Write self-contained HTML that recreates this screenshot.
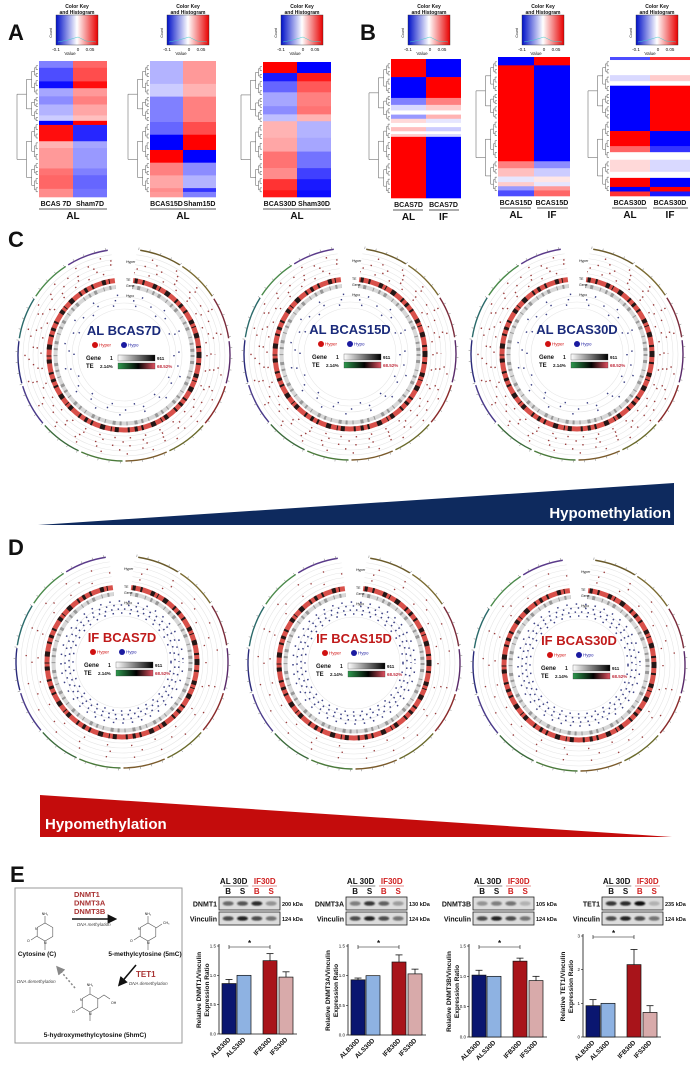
<!DOCTYPE html>
<html><head><meta charset="utf-8">
<style>
html,body{margin:0;padding:0;background:#fff;}
svg{display:block;font-family:"Liberation Sans",Arial,sans-serif;}
</style></head>
<body>
<svg id="fig" width="697" height="1065" viewBox="0 0 697 1065" xmlns="http://www.w3.org/2000/svg">
<defs>
<linearGradient id="ckey" x1="0" x2="1" y1="0" y2="0">
<stop offset="0" stop-color="#0010c8"/><stop offset="0.5" stop-color="#ffffff"/><stop offset="1" stop-color="#e80000"/></linearGradient>
<linearGradient id="gGene" x1="0" x2="1"><stop offset="0" stop-color="#fff"/><stop offset="1" stop-color="#000"/></linearGradient>
<linearGradient id="gTE" x1="0" x2="1"><stop offset="0" stop-color="#2e9a4e"/><stop offset="0.55" stop-color="#000"/><stop offset="1" stop-color="#e05060"/></linearGradient>
<filter id="blur1"><feGaussianBlur stdDeviation="0.9"/></filter>
<marker id="arr" markerWidth="6" markerHeight="6" refX="4" refY="3" orient="auto"><path d="M0,0 L6,3 L0,6 z" fill="#111"/></marker>
<marker id="arrg" markerWidth="6" markerHeight="6" refX="4" refY="3" orient="auto"><path d="M0,0 L6,3 L0,6 z" fill="#888"/></marker>
</defs>
<g id="root"></g>
</svg>
<script>
// ---------- bar chart data (panel E) ----------
const groups = ['ALB30D','ALS30D','IFB30D','IFS30D'];
const dnmt1Vals = [0.86, 1.0, 1.25, 0.97];
const dnmt1Err  = [0.07, 0.0, 0.12, 0.09];
const dnmt3aVals = [0.93, 1.0, 1.23, 1.03];
const dnmt3aErr  = [0.03, 0.0, 0.12, 0.08];
const dnmt3bVals = [1.02, 1.0, 1.25, 0.93];
const dnmt3bErr  = [0.08, 0.0, 0.05, 0.07];
const tet1Vals = [0.93, 1.0, 2.15, 0.73];
const tet1Err  = [0.18, 0.0, 0.45, 0.20];
const ticks15 = [0, 0.5, 1.0, 1.5];
const ticks15Labels = ['0.0','0.5','1.0','1.5'];
const ticks3 = [0, 1, 2, 3];
const ticks3Labels = ['0','1','2','3'];

// ---------- heatmap data: [fraction, col1 value, col2 value] ----------
const hmA1 = [[0.05,-0.5,0.6],[0.1,-0.7,0.7],[0.05,-0.95,0.95],[0.06,-0.35,0.4],[0.06,-0.45,0.5],[0.08,-0.3,0.35],[0.04,-0.2,0.25],[0.03,-1,1],[0.12,0.95,-0.85],[0.05,0.3,-0.35],[0.15,0.4,-0.4],[0.05,0.55,-0.5],[0.1,0.6,-0.6],[0.06,0.45,-0.55]];
const hmA2 = [[0.18,-0.3,0.4],[0.1,-0.2,0.3],[0.2,-0.5,0.5],[0.1,-0.6,0.7],[0.12,-1,1],[0.1,1,-1],[0.1,0.5,-0.45],[0.1,0.35,-0.3],[0.03,0.45,-0.8],[0.04,0.4,-0.5]];
const hmA3 = [[0.08,1,-1],[0.06,-0.9,0.9],[0.08,-0.6,0.65],[0.1,-0.35,0.5],[0.06,-0.45,0.55],[0.05,-0.25,0.3],[0.12,0.3,-0.3],[0.1,0.35,-0.35],[0.12,0.55,-0.55],[0.08,0.45,-0.75],[0.08,0.8,-0.9],[0.05,0.9,-0.95]];
const hmB1 = [[0.13,1,-1],[0.15,-1,1],[0.05,-0.5,0.5],[0.04,-0.15,0.2],[0.03,0,0],[0.03,-0.4,0.3],[0.03,0.15,-0.1],[0.03,0,0],[0.03,0.25,-0.2],[0.02,0,0],[0.02,0.2,-0.15],[0.44,1,-1]];
const hmB2 = [[0.06,-1,1],[0.69,1,-1],[0.05,0.5,-0.45],[0.06,0.25,-0.2],[0.04,-0.1,0.1],[0.03,0.2,-0.1],[0.03,-0.4,0.4],[0.04,-0.7,0.6]];
const hmB3 = [[0.02,-0.7,0.8],[0.1,0,0],[0.04,-0.15,0.2],[0.03,0,0],[0.3,-1,1],[0.1,1,-1],[0.04,0.6,-0.8],[0.05,0,0],[0.08,0.15,-0.15],[0.04,0,0],[0.06,1,-1],[0.03,-1,1],[0.03,0.8,-0.9]];

const NS='http://www.w3.org/2000/svg';
const root=document.getElementById('root');
function el(tag,attrs,parent,txt){const e=document.createElementNS(NS,tag);for(const k in attrs)e.setAttribute(k,attrs[k]);if(txt!==undefined)e.textContent=txt;(parent||root).appendChild(e);return e;}
function grp(name,parent){const g=el('g',{},parent);


return g;}
function txt(parent,x,y,s,size,opts){opts=opts||{};const t=el('text',{x:x,y:y,'font-size':size,fill:opts.fill||'#111','font-weight':opts.bold?'bold':'normal','text-anchor':opts.anchor||'start','font-style':opts.italic?'italic':'normal'},parent,s);if(opts.transform)t.setAttribute('transform',opts.transform);return t;}
function hmColor(v){if(v>=0){const c=Math.round(255*(1-v));return `rgb(255,${c},${c})`;}const c=Math.round(255*(1+v));return `rgb(${c},${c},255)`;}

[['A',8,40],['B',360,40],['C',8,247],['D',8,555],['E',10,882]].forEach(p=>{
  const t=txt(root,p[1],p[2],p[0],22,{bold:true});
  
  
});

// ---------- heatmaps ----------
function dendro(g,x0,x1,y0,y1,depth){
  if(depth===0||y1-y0<4){return (y0+y1)/2;}
  const split=y0+(y1-y0)*(depth%2?0.45:0.55);
  const xm=x0+(x1-x0)*0.45;
  const a=dendro(g,xm,x1,y0,split,depth-1);
  const b=dendro(g,xm,x1,split,y1,depth-1);
  el('path',{d:`M${xm+(depth===1?(x1-xm):0)},${a} H${x0} V${b} H${xm+(depth===1?(x1-xm):0)}`,stroke:'#555','stroke-width':0.5,fill:'none'},g);
  return (a+b)/2;
}
function heatmap(name,data,x,y,w,h,ckx,labels,group,group2){
  const g=grp(name);
  const ck=grp(name+'-color-key',g);
  txt(ck,ckx+21,8,'Color Key',5,{anchor:'middle',bold:true});
  txt(ck,ckx+21,14,'and Histogram',5,{anchor:'middle',bold:true});
  el('rect',{x:ckx,y:15,width:42,height:30,fill:'url(#ckey)',stroke:'#333','stroke-width':0.4},ck);
  el('path',{d:`M${ckx+2},42 L${ckx+12},40 L${ckx+22},37 L${ckx+30},41 L${ckx+40},42`,stroke:'#4cc',fill:'none','stroke-width':0.5},ck);
  txt(ck,ckx,51,'-0.1',4.5,{anchor:'middle'});
  txt(ck,ckx+22,51,'0',4.5,{anchor:'middle'});
  txt(ck,ckx+34,51,'0.05',4.5,{anchor:'middle'});
  txt(ck,ckx+14,55,'Value',4.5,{anchor:'middle'});
  txt(ck,ckx-4,33,'Count',3.5,{anchor:'middle',transform:`rotate(-90 ${ckx-4} 33)`});
  const tot=data.reduce((s,r)=>s+r[0],0);
  let cy=y;
  data.forEach((r,i)=>{
    const rh=r[0]/tot*h;
    const c1=el('rect',{x:x,y:cy,width:w/2,height:rh+0.3,fill:hmColor(r[1])},g);
    
    
    const c2=el('rect',{x:x+w/2,y:cy,width:w/2,height:rh+0.3,fill:hmColor(r[2])},g);
    
    
    cy+=rh;
  });
  const dg=grp(name+'-dendrogram',g);
  dendro(dg,x-22,x-1,y+3,y+h-3,5);
  txt(g,x+w*0.25,y+h+9,labels[0],7,{anchor:'middle',bold:true});
  txt(g,x+w*0.75,y+h+9,labels[1],7,{anchor:'middle',bold:true});
  if(group2){
    el('line',{x1:x+2,x2:x+w/2-3,y1:y+h+12,y2:y+h+12,stroke:'#222','stroke-width':0.8},g);
    el('line',{x1:x+w/2+3,x2:x+w-2,y1:y+h+12,y2:y+h+12,stroke:'#222','stroke-width':0.8},g);
    txt(g,x+w*0.25,y+h+22,group,10,{anchor:'middle',bold:true});
    txt(g,x+w*0.75,y+h+22,group2,10,{anchor:'middle',bold:true});
  } else {
    el('line',{x1:x,x2:x+w,y1:y+h+12,y2:y+h+12,stroke:'#222','stroke-width':0.8},g);
    txt(g,x+w/2,y+h+22,group,10,{anchor:'middle',bold:true});
  }
}
heatmap('heatmap-al-7d',hmA1,39,61,68,136,56,['BCAS 7D','Sham7D'],'AL');
heatmap('heatmap-al-15d',hmA2,150,61,66,136,167,['BCAS15D','Sham15D'],'AL');
heatmap('heatmap-al-30d',hmA3,263,62,68,135,281,['BCAS30D','Sham30D'],'AL');
heatmap('heatmap-7d-al-vs-if',hmB1,391,59,70,139,408,['BCAS7D','BCAS7D'],'AL','IF');
heatmap('heatmap-15d-al-vs-if',hmB2,498,57,72,139,522,['BCAS15D','BCAS15D'],'AL','IF');
heatmap('heatmap-30d-al-vs-if',hmB3,610,57,80,139,636,['BCAS30D','BCAS30D'],'AL','IF');

// ---------- circos plots ----------
const chromColors=['#6a5a2a','#7a6a30','#7a2a3a','#5a2a6a','#8a2a2a','#6a6a2a','#7a5a2a','#4a7a3a','#3a6a3a','#4a3a8a','#2a2a7a','#2a6a6a','#4a8a4a','#5a3a8a'];
function circos(name,cx,cy,label,labelColor,hypoStrong){
  const g=grp(name);
  const R=106;
  const n=chromColors.length, start=8, end=352;
  for(let i=0;i<n;i++){
    const a0=(start+(end-start)*i/n+0.8)*Math.PI/180, a1=(start+(end-start)*(i+1)/n-0.8)*Math.PI/180;
    el('path',{d:`M${cx+R*Math.sin(a0)},${cy-R*Math.cos(a0)} A${R},${R} 0 0 1 ${cx+R*Math.sin(a1)},${cy-R*Math.cos(a1)}`,stroke:chromColors[i],'stroke-width':1.4,fill:'none'},g);
  }
  for(let a=start;a<=end;a+=6){const r=a*Math.PI/180;
    el('line',{x1:cx+R*Math.sin(r),y1:cy-R*Math.cos(r),x2:cx+(R+2.5)*Math.sin(r),y2:cy-(R+2.5)*Math.cos(r),stroke:'#777','stroke-width':0.5},g);}
  [101,96,91,86,81,58,52,46].forEach(r=>el('circle',{cx:cx,cy:cy,r:r,fill:'none',stroke:'#e6e6e6','stroke-width':0.6},g));
  // hyper dots (sparse)
  const hyp = hypoStrong ? [[84,'1.3 23',0],[90,'1.3 31',9],[96,'1.3 27',4]] : [[83,'1.4 14',0],[87,'1.4 19',6],[91,'1.4 16',3],[95,'1.4 22',11],[99,'1.4 25',7]];
  hyp.forEach(d=>{
    el('circle',{cx:cx,cy:cy,r:d[0],fill:'none',stroke:'#8a1a1a','stroke-width':1.4,'stroke-dasharray':d[1],'stroke-dashoffset':d[2],opacity:0.85},g);
  });
  el('circle',{cx:cx,cy:cy,r:75,fill:'none',stroke:'#d8504a','stroke-width':5},g);
  el('circle',{cx:cx,cy:cy,r:75,fill:'none',stroke:'#111','stroke-width':5,'stroke-dasharray':'3 5 2 9 4 3 1 6 5 8 2 4','opacity':0.9},g);
  el('circle',{cx:cx,cy:cy,r:68.5,fill:'none',stroke:'#d8d8d8','stroke-width':4},g);
  el('circle',{cx:cx,cy:cy,r:68.5,fill:'none',stroke:'#555','stroke-width':4,'stroke-dasharray':'2 4 3 7 1 5','opacity':0.5},g);
  // hypo dots
  const hd = hypoStrong ? [[49,'1.5 7',0],[53,'1.5 5',2],[57,'1.5 6',3],[61,'1.5 8',1]] : [[50,'1.4 21',0],[55,'1.4 17',8],[60,'1.4 24',4]];
  hd.forEach(d=>el('circle',{cx:cx,cy:cy,r:d[0],fill:'none',stroke:'#1a2070','stroke-width':1.5,'stroke-dasharray':d[1],'stroke-dashoffset':d[2],opacity:0.85},g));
  const ga=-7*Math.PI/180, gb=7*Math.PI/180, r0=63, r1=112;
  el('path',{d:`M${cx+r0*Math.sin(ga)},${cy-r0*Math.cos(ga)} L${cx+r1*Math.sin(ga)},${cy-r1*Math.cos(ga)} A${r1},${r1} 0 0 1 ${cx+r1*Math.sin(gb)},${cy-r1*Math.cos(gb)} L${cx+r0*Math.sin(gb)},${cy-r0*Math.cos(gb)} Z`,fill:'#fff'},g);
  txt(g,cx+2,cy-92,'Hyper',3.5);
  txt(g,cx+2,cy-74,'TE',3.5);
  txt(g,cx+2,cy-68,'Gene',3.5);
  txt(g,cx+2,cy-58,'Hypo',3.5);
  txt(g,cx,cy-20,label,13,{anchor:'middle',bold:true,fill:labelColor});
  el('circle',{cx:cx-29,cy:cy-10,r:3,fill:'#d01010'},g);
  txt(g,cx-25,cy-8.5,'Hyper',4.5,{fill:'#d01010'});
  el('circle',{cx:cx,cy:cy-10,r:3,fill:'#1a1aa0'},g);
  txt(g,cx+4,cy-8.5,'Hypo',4.5,{fill:'#1a1aa0'});
  txt(g,cx-38,cy+5,'Gene',6,{bold:true});
  txt(g,cx-14,cy+5,'1',5,{bold:true});
  el('rect',{x:cx-6,y:cy,width:37,height:6,fill:'url(#gGene)',stroke:'#333','stroke-width':0.3},g);
  txt(g,cx+33,cy+5,'911',4.5,{bold:true});
  txt(g,cx-38,cy+13,'TE',6,{bold:true});
  txt(g,cx-24,cy+13,'2.14%',4.5,{bold:true});
  el('rect',{x:cx-6,y:cy+8,width:37,height:6,fill:'url(#gTE)',stroke:'#333','stroke-width':0.3},g);
  txt(g,cx+33,cy+13,'68.52%',4.5,{bold:true,fill:'#c03040'});
}
circos('circos-al-bcas7d',124,355,'AL BCAS7D','#1a2a7a',false);
circos('circos-al-bcas15d',350,354,'AL BCAS15D','#1a2a7a',false);
circos('circos-al-bcas30d',577,354,'AL BCAS30D','#1a2a7a',false);
circos('circos-if-bcas7d',122,662,'IF BCAS7D','#c01a1a',true);
circos('circos-if-bcas15d',354,663,'IF BCAS15D','#c01a1a',true);
circos('circos-if-bcas30d',579,665,'IF BCAS30D','#c01a1a',true);

// ---------- triangles ----------
(function(){
  const g1=grp('hypomethylation-al-triangle');
  el('polygon',{points:'38,525 674,483 674,525',fill:'#0e2a5e'},g1);
  txt(g1,671,518,'Hypomethylation',15,{anchor:'end',bold:true,fill:'#fff'});
  const g2=grp('hypomethylation-if-triangle');
  el('polygon',{points:'40,795 40,837 672,837',fill:'#c40c0c'},g2);
  txt(g2,45,829,'Hypomethylation',15,{bold:true,fill:'#fff'});
})();

// ---------- methylation diagram ----------
(function(){
  const g=grp('methylation-pathway-diagram');
  el('rect',{x:15,y:888,width:167,height:155,fill:'#fff',stroke:'#999','stroke-width':1},g);
  function ring(x,y,sub){
    const s=9;const pts=[];
    for(let i=0;i<6;i++){const a=(i*60+30)*Math.PI/180;pts.push((x+s*Math.cos(a)).toFixed(1)+','+(y+s*Math.sin(a)).toFixed(1));}
    el('polygon',{points:pts.join(' '),fill:'none',stroke:'#555','stroke-width':0.6},g);
    el('line',{x1:x,y1:y-9,x2:x,y2:y-16,stroke:'#555','stroke-width':0.6},g);
    txt(g,x,y-17,'NH₂',3.5,{anchor:'middle'});
    el('line',{x1:x,y1:y+9,x2:x,y2:y+18,stroke:'#555','stroke-width':0.6},g);
    el('line',{x1:x-8,y1:y+4,x2:x-14,y2:y+8,stroke:'#555','stroke-width':0.6},g);
    txt(g,x-18,y+10,'O',3.5);
    txt(g,x-10,y-2,'N',3.5);txt(g,x-1,y+12,'N',3.5);
    if(sub==='me'){el('line',{x1:x+8,y1:y-4,x2:x+14,y2:y-8,stroke:'#555','stroke-width':0.6},g);txt(g,x+15,y-8,'CH₃',3.5);}
    if(sub==='hm'){el('path',{d:`M${x+8},${y-4} l6,-4 l6,4`,stroke:'#555','stroke-width':0.6,fill:'none'},g);txt(g,x+21,y+1,'OH',3.5);}
  }
  ring(45,932,null); ring(148,932,'me'); ring(90,1003,'hm');
  txt(g,37,956,'Cytosine (C)',6.5,{anchor:'middle',bold:true});
  txt(g,145,956,'5-methylcytosine (5mC)',6.5,{anchor:'middle',bold:true});
  txt(g,95,1037,'5-hydroxymethylcytosine (5hmC)',6.5,{anchor:'middle',bold:true});
  txt(g,74,897,'DNMT1',7.5,{bold:true,fill:'#a83232'});
  txt(g,74,905.5,'DNMT3A',7.5,{bold:true,fill:'#a83232'});
  txt(g,74,914,'DNMT3B',7.5,{bold:true,fill:'#a83232'});
  el('line',{x1:72,y1:919,x2:114,y2:919,stroke:'#111','stroke-width':1.6,'marker-end':'url(#arr)'},g);
  txt(g,77,926,'DNA methylation',4.5,{italic:true,fill:'#444'});
  txt(g,136,977,'TET1',8,{bold:true,fill:'#a83232'});
  el('line',{x1:136,y1:965,x2:120,y2:984,stroke:'#111','stroke-width':1.6,'marker-end':'url(#arr)'},g);
  txt(g,129,985,'DNA demethylation',4.5,{italic:true,fill:'#444'});
  el('line',{x1:75,y1:988,x2:58,y2:968,stroke:'#888','stroke-width':1.5,'stroke-dasharray':'2 2','marker-end':'url(#arrg)'},g);
  txt(g,17,983,'DNA demethylation',4.5,{italic:true,fill:'#444'});
})();

// ---------- western blots + bar charts ----------
const barColors=['#0a1670','#8eb2e2','#a8141a','#d8aaaa'];
function blot(name,bx,protein,kda,intens){
  const g=grp(name);
  const w=61;
  txt(g,bx+w*0.24,884,'AL 30D',8,{anchor:'middle',bold:true});
  el('line',{x1:bx+4,x2:bx+w*0.48,y1:886,y2:886,stroke:'#111','stroke-width':0.6},g);
  txt(g,bx+w*0.75,884,'IF30D',8,{anchor:'middle',bold:true,fill:'#d02020'});
  el('line',{x1:bx+w*0.54,x2:bx+w-3,y1:886,y2:886,stroke:'#d02020','stroke-width':0.6},g);
  ['B','S','B','S'].forEach((s,i)=>txt(g,bx+w*(0.15+0.235*i),894,s,8,{anchor:'middle',bold:true,fill:i>1?'#d02020':'#111'}));
  [[897,protein,kda,intens],[912,'Vinculin','124 kDa',[0.7,0.9,0.7,0.5]]].forEach(row=>{
    el('rect',{x:bx,y:row[0],width:w,height:13,fill:'#dcdcdc',stroke:'#222','stroke-width':0.8},g);
    row[3].forEach((v,i)=>{
      el('ellipse',{cx:bx+w*(0.15+0.235*i),cy:row[0]+6.5,rx:5.5,ry:2.3,fill:'#111',opacity:v,filter:'url(#blur1)'},g);
    });
    txt(g,bx-2,row[0]+9.5,row[1],7,{anchor:'end',bold:true});
    txt(g,bx+w+2,row[0]+9,row[2],5.5,{bold:true});
  });
}
blot('blot-dnmt1',219,'DNMT1','200 kDa',[0.55,0.65,0.85,0.35]);
blot('blot-dnmt3a',346,'DNMT3A','130 kDa',[0.45,0.8,0.6,0.3]);
blot('blot-dnmt3b',473,'DNMT3B','105 kDa',[0.35,0.45,0.5,0.2]);
blot('blot-tet1',602,'TET1','235 kDa',[0.8,0.85,1.0,0.2]);

function barChart(name,ax,y0,ytop,vals,errs,ticks,tickLabels,title){
  const g=grp(name);
  const ymax=ticks[ticks.length-1];
  const ys=v=>y0-(v/ymax)*(y0-ytop);
  const offs=[3,18,44,60], bw=14;
  const xs=i=>ax+offs[i];
  el('line',{x1:ax,y1:ytop-2,x2:ax,y2:y0,stroke:'#111','stroke-width':0.8},g);
  el('line',{x1:ax,y1:y0,x2:ax+78,y2:y0,stroke:'#111','stroke-width':0.8},g);
  ticks.forEach((t,i)=>{
    el('line',{x1:ax-2,x2:ax,y1:ys(t),y2:ys(t),stroke:'#111','stroke-width':0.6},g);
    txt(g,ax-3,ys(t)+1.5,tickLabels[i],4.5,{anchor:'end'});
  });
  vals.forEach((v,i)=>{
    const x=xs(i);
    const b=el('rect',{x:x,y:ys(v),width:bw,height:y0-ys(v),fill:barColors[i],stroke:'#111','stroke-width':0.7},g);
    
    
    if(errs[i]>0){
      el('line',{x1:x+bw/2,x2:x+bw/2,y1:ys(v),y2:ys(v+errs[i]),stroke:'#111','stroke-width':0.8},g);
      el('line',{x1:x+bw/2-3.5,x2:x+bw/2+3.5,y1:ys(v+errs[i]),y2:ys(v+errs[i]),stroke:'#111','stroke-width':0.8},g);
    }
    const lx=x+bw/2+2, ly=y0+6;
    txt(g,lx,ly,groups[i],6.5,{anchor:'end',bold:true,transform:`rotate(-45 ${lx} ${ly})`});
  });
  const sy=ytop+1, x1=xs(0)+bw/2, x2=xs(2)+bw/2;
  el('path',{d:`M${x1},${sy-2} V${sy+2} M${x1},${sy} H${x2} M${x2},${sy-2} V${sy+2}`,stroke:'#111','stroke-width':0.6,fill:'none'},g);
  txt(g,(x1+x2)/2,sy-1,'*',8,{anchor:'middle',bold:true});
  const tx=ax-18, ty=(y0+ytop)/2;
  txt(g,tx,ty,title,6.5,{anchor:'middle',bold:true,transform:`rotate(-90 ${tx} ${ty})`});
  txt(g,tx+8,ty,'Expression Ratio',6.5,{anchor:'middle',bold:true,transform:`rotate(-90 ${tx+8} ${ty})`});
}
barChart('bar-chart-dnmt1',219,1034,946,dnmt1Vals,dnmt1Err,ticks15,ticks15Labels,'Relative DNMT1/Vinculin');
barChart('bar-chart-dnmt3a',348,1035,946,dnmt3aVals,dnmt3aErr,ticks15,ticks15Labels,'Relative DNMT3A/Vinculin');
barChart('bar-chart-dnmt3b',469,1037,946,dnmt3bVals,dnmt3bErr,ticks15,ticks15Labels,'Relative DNMT3B/Vinculin');
barChart('bar-chart-tet1',583,1037,936,tet1Vals,tet1Err,ticks3,ticks3Labels,'Relative TET1/Vinculin');
</script>
</body></html>
